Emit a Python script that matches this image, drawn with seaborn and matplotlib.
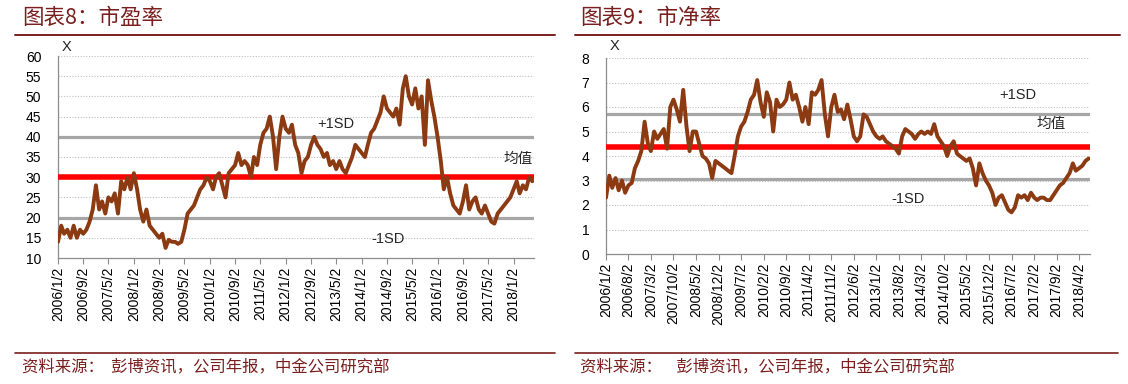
import numpy as np
import pandas as pd
import matplotlib
matplotlib.use("Agg")
import matplotlib.pyplot as plt
import seaborn as sns

# ---------------- data ----------------
start_date = "2006-01-02"

pe_values = [14, 18, 16, 17, 15, 18, 15, 17, 16, 17, 19, 22,
             28, 22, 24, 21, 25, 24, 26, 21, 29, 27, 30, 27,
             31, 27, 22, 19, 22, 18, 17, 16, 15, 16, 12.5, 14.5,
             14, 14, 13.5, 14, 17, 21, 22, 23, 25, 27, 28, 30,
             29, 27, 30, 31, 28, 25, 31, 32, 33, 36, 33, 34,
             33, 30, 35, 33, 38, 41, 42, 45, 40, 32, 40, 45,
             42, 41, 43, 38, 36, 31, 34, 35, 38, 40, 38, 37,
             35, 36, 33, 34, 32, 34, 32, 31, 33, 35, 38, 37,
             36, 35, 38, 41, 42, 44, 46, 50, 47, 46, 45, 47,
             43, 52, 55, 50, 48, 52, 47, 50, 38, 54, 49, 45,
             40, 34, 27, 30, 26, 23, 22, 21, 24, 28, 22, 24,
             25, 22, 21, 23, 21, 19, 18.5, 21, 22, 23, 24, 25,
             27, 29, 26, 28, 27, 30, 29]
pe_mean, pe_plus, pe_minus = 30, 40, 20
pe_ticklabels = ["2006/1/2", "2006/9/2", "2007/5/2", "2008/1/2", "2008/9/2",
                 "2009/5/2", "2010/1/2", "2010/9/2", "2011/5/2", "2012/1/2",
                 "2012/9/2", "2013/5/2", "2014/1/2", "2014/9/2", "2015/5/2",
                 "2016/1/2", "2016/9/2", "2017/5/2", "2018/1/2"]

pb_values = [2.3, 3.2, 2.7, 3.1, 2.6, 3.0, 2.5, 2.8, 2.9, 3.5, 3.8, 4.2,
             5.4, 4.5, 4.2, 5.0, 4.7, 4.9, 5.1, 4.3, 6.0, 6.3, 5.9, 5.4,
             6.7, 5.2, 4.2, 5.0, 5.0, 4.5, 4.0, 3.9, 3.7, 3.1, 3.8, 3.7,
             3.6, 3.5, 3.4, 3.3, 4.0, 4.8, 5.2, 5.4, 5.8, 6.3, 6.5, 7.1,
             6.2, 5.6, 6.6, 6.2, 5.0, 6.3, 6.0, 6.1, 6.3, 7.0, 6.3, 6.5,
             6.0, 5.4, 6.0, 5.3, 6.6, 6.5, 6.7, 7.1, 5.7, 4.8, 6.0, 6.5,
             5.8, 5.9, 5.5, 6.1, 5.5, 4.8, 4.6, 4.8, 5.7, 5.6, 5.3, 5.0,
             4.8, 4.7, 4.8, 4.6, 4.5, 4.4, 4.3, 4.1, 4.8, 5.1, 5.0, 4.9,
             4.7, 4.9, 5.0, 4.9, 5.0, 4.9, 5.3, 4.8, 4.6, 4.4, 4.0, 4.4,
             4.6, 4.1, 4.0, 3.9, 3.8, 3.9, 3.5, 2.8, 3.7, 3.3, 3.0, 2.8,
             2.5, 2.0, 2.3, 2.4, 2.1, 1.8, 1.7, 1.9, 2.4, 2.3, 2.4, 2.2,
             2.5, 2.3, 2.2, 2.3, 2.3, 2.2, 2.2, 2.4, 2.6, 2.8, 2.9, 3.1,
             3.3, 3.7, 3.4, 3.5, 3.6, 3.8, 3.9]
pb_mean, pb_plus, pb_minus = 4.35, 5.7, 3.05
pb_ticklabels = ["2006/1/2", "2006/8/2", "2007/3/2", "2007/10/2", "2008/5/2",
                 "2008/12/2", "2009/7/2", "2010/2/2", "2010/9/2", "2011/4/2",
                 "2011/11/2", "2012/6/2", "2013/1/2", "2013/8/2", "2014/3/2",
                 "2014/10/2", "2015/5/2", "2015/12/2", "2016/7/2", "2017/2/2",
                 "2017/9/2", "2018/4/2"]

title_left = "图表8：市盈率"
title_right = "图表9：市净率"
source_left = "资料来源：  彭博资讯，公司年报，中金公司研究部"
source_right = "资料来源：    彭博资讯，公司年报，中金公司研究部"

# ---------------- style ----------------
sns.set_theme(style="white")
plt.rcParams["font.family"] = ["Liberation Sans", "Noto Sans CJK SC"]

W, H = 1128, 384
fig = plt.figure(figsize=(W / 100, H / 100), dpi=100)
fig.patch.set_facecolor("white")

BROWN = "#8C3A12"
RED = "#FF0000"
GRAY = "#A6A6A6"
DARKRED = "#7A1E1E"
CJK = ["Noto Sans CJK SC", "DejaVu Sans"]


def px_axes(l, t, r, b):
    return fig.add_axes([l / W, (H - b) / H, (r - l) / W, (b - t) / H])


def draw_panel(ax, values, mean, plus, minus, ticklabels, ylim, ystep, xend,
               txt_plus, txt_minus, txt_mean):
    dates = pd.date_range(start_date, periods=len(values),
                          freq=pd.DateOffset(months=1))
    df = pd.DataFrame({"date": dates, "value": values})
    ax.axhline(plus, color=GRAY, lw=2.3, zorder=2)
    ax.axhline(minus, color=GRAY, lw=2.3, zorder=2)
    ax.axhline(mean, color=RED, lw=4.0, zorder=3)
    sns.lineplot(data=df, x="date", y="value", ax=ax, color=BROWN,
                 lw=2.8, zorder=4)
    ax.set_xlim(pd.Timestamp(start_date), pd.Timestamp(xend))
    ax.set_ylim(*ylim)
    yt = np.arange(ylim[0], ylim[1] + ystep / 2, ystep)
    ax.set_yticks(yt)
    ax.set_yticklabels([f"{v:g}" for v in yt], fontsize=10)
    for v in yt[1:]:
        ax.axhline(v, color="#BFBFBF", lw=0.8, ls=(0, (1, 1.5)), zorder=1)
    tpos = pd.to_datetime(ticklabels, format="%Y/%m/%d")
    ax.set_xticks(tpos)
    ax.set_xticklabels(ticklabels, rotation=90, fontsize=10)
    ax.set_xlabel("")
    ax.set_ylabel("")
    ax.grid(False)
    for s in ["top", "right"]:
        ax.spines[s].set_visible(False)
    for s in ["left", "bottom"]:
        ax.spines[s].set_color("#8C8C8C")
        ax.spines[s].set_linewidth(0.9)
    ax.tick_params(axis="x", which="major", bottom=True, length=4,
                   width=0.8, color="#8C8C8C", pad=2, labelcolor="black")
    ax.tick_params(axis="y", left=False, pad=6, labelcolor="black")
    ax.text(*txt_plus[:2], txt_plus[2], fontsize=10.5, ha="center",
            va="center", transform=ax.transData)
    ax.text(*txt_minus[:2], txt_minus[2], fontsize=10.5, ha="center",
            va="center", transform=ax.transData)
    ax.text(*txt_mean[:2], txt_mean[2], fontsize=10.5, ha="center",
            va="center", family=CJK, transform=ax.transData)


axL = px_axes(58, 56, 534, 258)
draw_panel(axL, pe_values, pe_mean, pe_plus, pe_minus, pe_ticklabels,
           (10, 60), 5, "2018-07-18",
           (pd.Timestamp("2013-05-01"), 43.2, "+1SD"),
           (pd.Timestamp("2014-09-10"), 14.7, "-1SD"),
           (pd.Timestamp("2018-02-15"), 34.6, "均值"))

axR = px_axes(606, 58, 1090, 254)
draw_panel(axR, pb_values, pb_mean, pb_plus, pb_minus, pb_ticklabels,
           (0, 8), 1, "2018-07-14",
           (pd.Timestamp("2016-09-01"), 6.5, "+1SD"),
           (pd.Timestamp("2013-11-01"), 2.25, "-1SD"),
           (pd.Timestamp("2017-07-15"), 5.3, "均值"))

# axis "X" unit labels
fig.text(62 / W, 1 - 47 / H, "X", fontsize=10.5, ha="left", va="center")
fig.text(610 / W, 1 - 46 / H, "X", fontsize=10.5, ha="left", va="center")

# titles, rules, sources
fig.text(22 / W, 1 - 18 / H, title_left, fontsize=15.5, color=DARKRED,
         family=CJK, style="italic", ha="left", va="center")
fig.text(580 / W, 1 - 18 / H, title_right, fontsize=15.5, color=DARKRED,
         family=CJK, style="italic", ha="left", va="center")
for (x0, x1) in [(15, 555), (575, 1120)]:
    fig.add_artist(plt.Line2D([x0 / W, x1 / W], [1 - 35 / H, 1 - 35 / H],
                              color=DARKRED, lw=1.4))
for (x0, x1) in [(15, 555), (575, 1118)]:
    fig.add_artist(plt.Line2D([x0 / W, x1 / W], [1 - 353 / H, 1 - 353 / H],
                              color=DARKRED, lw=1.2))
fig.text(22 / W, 1 - 367 / H, source_left, fontsize=11.8, color=DARKRED,
         family=CJK, style="italic", ha="left", va="center")
fig.text(580 / W, 1 - 367 / H, source_right, fontsize=11.8, color=DARKRED,
         family=CJK, style="italic", ha="left", va="center")

fig.savefig("out.png", dpi=100, facecolor="white")
